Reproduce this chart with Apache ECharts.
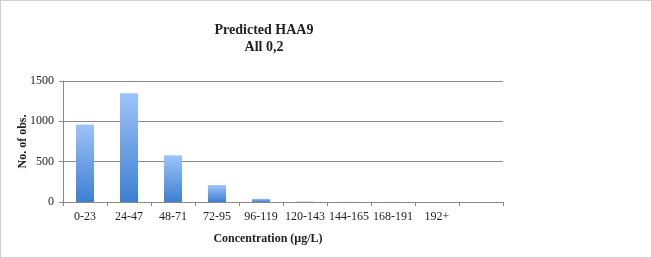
<!DOCTYPE html>
<html>
<head>
<meta charset="utf-8">
<script src="https://cdn.jsdelivr.net/npm/echarts@6/dist/echarts.min.js"></script>
<style>
  html, body { margin: 0; padding: 0; background: #fff; }
  #chart { width: 650px; height: 256px; border: 1px solid #cfcfcf; }
</style>
</head>
<body>
<div id="chart"></div>
<script>
// concentration bins (last slot is empty in the original)
const bins = ['0-23', '24-47', '48-71', '72-95', '96-119', '120-143', '144-165', '168-191', '192+', ''];
const counts = [962, 1348, 578, 210, 40, 6, 2, 1, 0, null];

const serif = 'Liberation Serif';

const chart = echarts.init(document.getElementById('chart'));
chart.setOption({
  animation: false,
  title: {
    text: 'Predicted HAA9\nAll 0,2',
    left: 258,
    textAlign: 'center',
    top: 16,
    textStyle: {
      fontFamily: serif,
      fontWeight: 'bold',
      fontSize: 14,
      lineHeight: 17,
      color: '#222',
    },
  },
  grid: {
    left: 62,
    right: 148,
    top: 80,
    bottom: 55,
  },
  xAxis: {
    type: 'category',
    data: bins,
    name: 'Concentration (µg/L)',
    nameLocation: 'middle',
    nameGap: 31,
    nameTextStyle: {
      fontFamily: serif,
      fontWeight: 'bold',
      fontSize: 12,
      color: '#222',
      padding: [0, 30, 0, 0],
    },
    axisLine: {lineStyle: {color: '#888'}},
    axisTick: {show: true, length: 4, lineStyle: {color: '#888'}},
    axisLabel: {
      fontFamily: serif,
      fontSize: 12,
      color: '#222',
      margin: 9,
      interval: 0,
    },
  },
  yAxis: {
    type: 'value',
    min: 0,
    max: 1500,
    interval: 500,
    name: 'No. of obs.',
    nameLocation: 'middle',
    nameGap: 34,
    nameMoveOverlap: false,
    nameTextStyle: {
      fontFamily: serif,
      fontWeight: 'bold',
      fontSize: 12,
      color: '#222',
    },
    axisLine: {show: true, lineStyle: {color: '#888'}},
    axisTick: {show: true, length: 4, lineStyle: {color: '#888'}},
    axisLabel: {
      fontFamily: serif,
      fontSize: 12,
      color: '#222',
      margin: 9,
      formatter: v => String(v),
    },
    splitLine: {lineStyle: {color: '#8a8a8a', width: 1}},
  },
  series: [
    {
      type: 'bar',
      data: counts,
      barWidth: '41%',
      itemStyle: {
        color: new echarts.graphic.LinearGradient(0, 0, 0, 1, [
          {offset: 0, color: '#9dc4f9'},
          {offset: 1, color: '#3d7fd1'},
        ]),
      },
    },
  ],
});
</script>
</body>
</html>
